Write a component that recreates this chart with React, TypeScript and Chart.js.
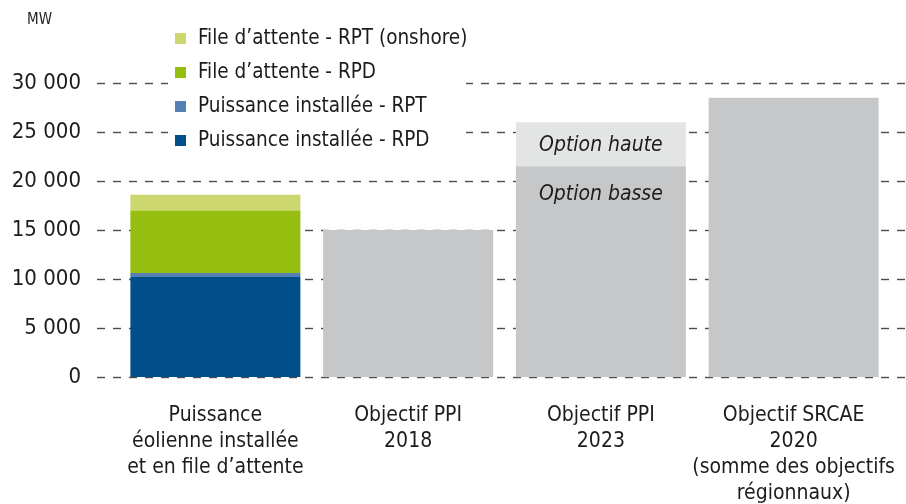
import React, { useEffect, useRef } from "react";
import { Chart, registerables } from "chart.js";

Chart.register(...registerables);

const categories: string[][] = [
  ["Puissance", "éolienne installée", "et en file d’attente"],
  ["Objectif PPI", "2018"],
  ["Objectif PPI", "2023"],
  ["Objectif SRCAE", "2020", "(somme des objectifs", "régionnaux)"],
];

const installeRPD = [10200, null, null, null];
const installeRPT = [400, null, null, null];
const attenteRPD = [6400, null, null, null];
const attenteRPT = [1600, null, null, null];
const objectifBase = [null, 15000, 21500, 28500];
const optionHaute = [null, null, 4500, null];

const yTicks = [0, 5000, 10000, 15000, 20000, 25000, 30000];
const unitLabel = "MW";
const optionHauteLabel = "Option haute";
const optionBasseLabel = "Option basse";

const FONT = "'Liberation Sans Narrow', 'Arial Narrow', 'DejaVu Sans Condensed', sans-serif";
const TEXT = "#1c1c1c";

const overlayPlugin = {
  id: "overlay",
  beforeDatasetsDraw(chart: any) {
    const ctx = chart.ctx;
    const y = chart.scales.y;
    ctx.save();
    ctx.strokeStyle = "#4d4d4d";
    ctx.lineWidth = 1.4;
    ctx.setLineDash([8, 8]);
    yTicks.forEach((v) => {
      const py = Math.round(y.getPixelForValue(v)) + 0.5;
      ctx.beginPath();
      ctx.moveTo(97, py);
      ctx.lineTo(chart.width, py);
      ctx.stroke();
    });
    ctx.restore();
  },
  afterDatasetsDraw(chart: any) {
    const ctx = chart.ctx;
    ctx.save();
    // legend
    ctx.fillStyle = "#ffffff";
    ctx.fillRect(168, 18, 298, 152);
    const ds = chart.data.datasets;
    const order = [3, 2, 1, 0];
    ctx.font = `20.5px ${FONT}`;
    ctx.textBaseline = "middle";
    ctx.textAlign = "left";
    order.forEach((di, i) => {
      const cy = 38 + i * 34;
      ctx.fillStyle = ds[di].backgroundColor;
      ctx.fillRect(175, cy - 5, 11, 11);
      ctx.fillStyle = TEXT;
      ctx.fillText(ds[di].label, 198, cy + 1);
    });
    // unit
    ctx.font = `15px ${FONT}`;
    ctx.fillText(unitLabel, 27, 20);
    // option labels
    const hauteEl = chart.getDatasetMeta(5).data[2];
    const basseEl = chart.getDatasetMeta(4).data[2];
    ctx.font = `italic 21px ${FONT}`;
    ctx.textAlign = "center";
    if (hauteEl) {
      ctx.fillText(optionHauteLabel, hauteEl.x, (hauteEl.y + hauteEl.base) / 2 + 1);
    }
    if (basseEl) {
      ctx.fillText(optionBasseLabel, basseEl.x, basseEl.y + 28);
    }
    ctx.restore();
  },
};

export default function App() {
  const ref = useRef<HTMLCanvasElement | null>(null);
  useEffect(() => {
    document.body.style.margin = "0";
    if (!ref.current) return;
    const chart = new Chart(ref.current, {
      type: "bar",
      data: {
        labels: categories,
        datasets: [
          { label: "Puissance installée - RPD", data: installeRPD, backgroundColor: "#004f8b" },
          { label: "Puissance installée - RPT", data: installeRPT, backgroundColor: "#5480b3" },
          { label: "File d’attente - RPD", data: attenteRPD, backgroundColor: "#95be10" },
          { label: "File d’attente - RPT (onshore)", data: attenteRPT, backgroundColor: "#ccd86f" },
          { label: "Objectif", data: objectifBase, backgroundColor: "#c6c7c8" },
          { label: "Option haute", data: optionHaute, backgroundColor: "#e3e4e4" },
        ] as any,
      },
      options: {
        animation: false,
        responsive: false,
        devicePixelRatio: 1,
        layout: { padding: { top: 83, right: 16, left: 0, bottom: 0 } },
        datasets: { bar: { categoryPercentage: 1, barPercentage: 0.882, borderWidth: 0 } } as any,
        plugins: { legend: { display: false }, tooltip: { enabled: false }, title: { display: false } },
        scales: {
          x: {
            stacked: true,
            grid: { display: false, drawTicks: false },
            border: { display: false },
            ticks: {
              color: TEXT,
              font: { family: FONT, size: 21, lineHeight: 26 / 21 },
              padding: 26,
              maxRotation: 0,
              autoSkip: false,
            },
            afterFit: (s: any) => {
              s.height = 127;
              s.paddingLeft = 0;
              s.paddingRight = 0;
            },
          },
          y: {
            stacked: true,
            min: 0,
            max: 30000,
            grid: { display: false, drawTicks: false },
            border: { display: false },
            afterBuildTicks: (s: any) => {
              s.ticks = yTicks.map((v) => ({ value: v }));
            },
            ticks: {
              color: TEXT,
              font: { family: FONT, size: 22 },
              padding: 38,
              callback: (v: any) => Number(v).toLocaleString("en-US").replace(/,/g, " "),
            },
            afterFit: (s: any) => {
              s.width = 119;
              s.paddingTop = 0;
              s.paddingBottom = 0;
            },
          },
        },
      },
      plugins: [overlayPlugin],
    });
    return () => chart.destroy();
  }, []);
  return (
    <div style={{ width: 906, height: 504 }}>
      <canvas ref={ref} width={906} height={504} style={{ display: "block" }} />
    </div>
  );
}
